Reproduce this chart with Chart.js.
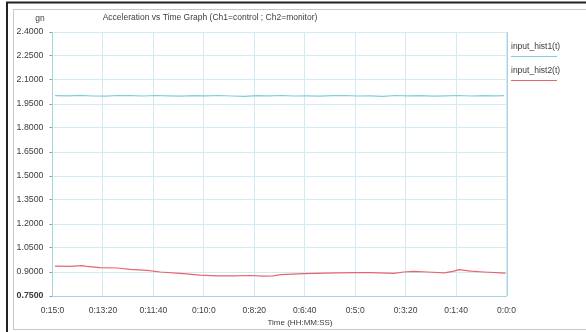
<!DOCTYPE html>
<html>
<head>
<meta charset="utf-8">
<script src="https://cdn.jsdelivr.net/npm/chart.js@4/dist/chart.umd.min.js"></script>
<style>
  html, body { margin: 0; padding: 0; background: #fff; }
  #wrap { position: relative; width: 586px; height: 332px; }
  canvas { display: block; }
</style>
</head>
<body>
<div id="wrap"><canvas id="c" width="586" height="332"></canvas></div>
<script>
// Remaining time in seconds (axis runs from 15 min down to 0)
const tickSeconds = [0, 100, 200, 300, 400, 500, 600, 700, 800, 900];
const tickLabels = ['0:0:0', '0:1:40', '0:3:20', '0:5:0', '0:6:40', '0:8:20', '0:10:0', '0:11:40', '0:13:20', '0:15:0'];

// Ch1 (control) acceleration, gn
const hist1Time = [895, 870, 845, 820, 795, 770, 745, 720, 695, 670, 645, 620, 595, 570, 545, 520, 495, 470, 445, 420, 395, 370, 345, 320, 295, 270, 245, 220, 195, 170, 145, 120, 95, 70, 45, 20, 5];
const hist1Value = [2.002, 2.001, 2.004, 2.000, 1.999, 2.003, 2.002, 2.000, 2.003, 2.001, 1.999, 2.002, 2.001, 2.003, 2.000, 1.998, 2.002, 2.001, 2.003, 2.000, 2.001, 1.999, 2.002, 2.003, 2.000, 2.001, 1.998, 2.003, 2.001, 2.002, 1.999, 2.001, 2.003, 2.000, 2.002, 2.001, 2.002];

// Ch2 (monitor) acceleration, gn
const hist2Time = [895, 865, 842, 832, 806, 772, 746, 713, 686, 641, 607, 574, 541, 508, 482, 462, 448, 402, 335, 303, 270, 223, 204, 184, 157, 124, 106, 94, 71, 45, 11, 2];
const hist2Value = [0.937, 0.935, 0.940, 0.935, 0.927, 0.925, 0.917, 0.910, 0.900, 0.890, 0.880, 0.876, 0.876, 0.878, 0.874, 0.876, 0.884, 0.890, 0.894, 0.896, 0.896, 0.892, 0.900, 0.904, 0.900, 0.894, 0.904, 0.915, 0.906, 0.900, 0.894, 0.893];

const seriesNames = ['input_hist1(t)', 'input_hist2(t)'];
const seriesColors = ['#7fcde0', '#e8656f'];

const FONT = 'Liberation Sans, Arial, sans-serif';
const TEXT = '#3c3c3c';

function points(ts, vs) { return ts.map((t, i) => ({ x: t, y: vs[i] })); }

// Frame, title, unit, axis caption and legend
const decor = {
  id: 'decor',
  beforeDraw(chart) {
    const ctx = chart.ctx;
    ctx.save();
    ctx.fillStyle = '#fff';
    ctx.fillRect(0, 0, chart.width, chart.height);
    ctx.strokeStyle = '#c8c8c8';
    ctx.lineWidth = 1;
    ctx.strokeRect(13.5, 9.5, 580, 320);
    ctx.strokeStyle = '#222';
    ctx.lineWidth = 2;
    ctx.beginPath();
    ctx.moveTo(7, 340); ctx.lineTo(7, 2.5); ctx.lineTo(600, 2.5);
    ctx.stroke();
    ctx.restore();
  },
  afterDraw(chart) {
    const ctx = chart.ctx;
    ctx.save();
    ctx.fillStyle = TEXT;
    ctx.textBaseline = 'middle';
    ctx.textAlign = 'center';
    ctx.font = '8.5px ' + FONT;
    ctx.fillText('Acceleration vs Time Graph (Ch1=control ; Ch2=monitor)', 210, 18);
    ctx.fillText('gn', 40, 19);
    ctx.font = '8px ' + FONT;
    ctx.fillText('Time (HH:MM:SS)', 300, 323);
    ctx.textAlign = 'left';
    ctx.font = '8.5px ' + FONT;
    chart.data.datasets.forEach((ds, i) => {
      const y = 47 + i * 24;
      ctx.fillStyle = TEXT;
      ctx.fillText(ds.label, 511, y);
      ctx.strokeStyle = ds.borderColor;
      ctx.lineWidth = 1;
      ctx.beginPath();
      ctx.moveTo(511, y + 9.5); ctx.lineTo(557, y + 9.5);
      ctx.stroke();
    });
    ctx.restore();
  }
};

new Chart(document.getElementById('c'), {
  type: 'line',
  data: {
    datasets: [
      { label: seriesNames[0], data: points(hist1Time, hist1Value), borderColor: seriesColors[0], borderWidth: 1.2, pointRadius: 0, tension: 0 },
      { label: seriesNames[1], data: points(hist2Time, hist2Value), borderColor: seriesColors[1], borderWidth: 1.2, pointRadius: 0, tension: 0 }
    ]
  },
  options: {
    responsive: false,
    animation: false,
    layout: { padding: { left: 0, top: 32, right: 79.5, bottom: 0 } },
    plugins: { legend: { display: false }, tooltip: { enabled: false }, title: { display: false } },
    scales: {
      x: {
        type: 'linear',
        reverse: true,
        min: 0, max: 900,
        afterFit(s) { s.height = 36; },
        afterBuildTicks(s) { s.ticks = tickSeconds.map(v => ({ value: v })); },
        ticks: {
          callback: v => tickLabels[tickSeconds.indexOf(v)],
          font: { family: FONT, size: 8.5 },
          color: TEXT,
          padding: 10,
          maxRotation: 0,
          autoSkip: false
        },
        grid: { color: '#d3e9f3', tickLength: 0, lineWidth: 1 },
        border: { color: '#a9d3e3' }
      },
      y: {
        min: 0.75, max: 2.4,
        afterFit(s) { s.width = 52.5; },
        afterBuildTicks(s) {
          const t = [];
          for (let i = 0; i <= 11; i++) t.push({ value: +(0.75 + i * 0.15).toFixed(2) });
          s.ticks = t;
        },
        ticks: {
          callback: v => v.toFixed(4),
          font: ctx => ({ family: FONT, size: 8.8, weight: ctx.tick && ctx.tick.value === 0.75 ? 'bold' : 'normal' }),
          color: TEXT,
          padding: 6
        },
        grid: {
          color: '#d3e9f3',
          tickColor: '#999',
          tickLength: 3,
          lineWidth: 1
        },
        border: { color: '#a9d3e3' }
      }
    }
  },
  plugins: [decor, {
    id: 'rightEdge',
    afterDatasetsDraw(chart) {
      const a = chart.chartArea, ctx = chart.ctx;
      ctx.save();
      ctx.strokeStyle = '#a9d3e3';
      ctx.lineWidth = 1;
      ctx.beginPath();
      ctx.moveTo(Math.round(a.right) + 0.5, a.top);
      ctx.lineTo(Math.round(a.right) + 0.5, a.bottom);
      ctx.stroke();
      ctx.restore();
    }
  }]
});
</script>
</body>
</html>
